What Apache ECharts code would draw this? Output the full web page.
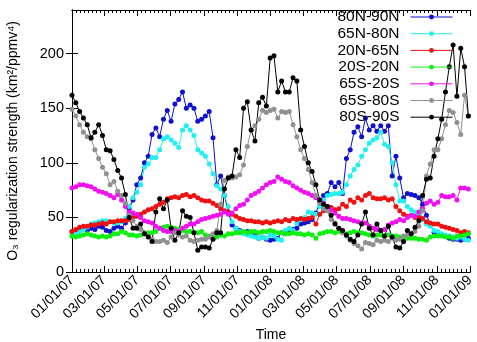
<!DOCTYPE html>
<html>
<head>
<meta charset="utf-8">
<script src="https://cdn.jsdelivr.net/npm/echarts@6/dist/echarts.min.js"></script>
<style>
  html, body { margin: 0; padding: 0; background: #fff; }
  #chart { width: 477px; height: 342px; }
</style>
</head>
<body>
<div id="chart"></div>
<script>
// weekly samples starting 01/01/07
const tickLabels = ["01/01/07", "03/01/07", "05/01/07", "07/01/07", "09/01/07", "11/01/07",
  "01/01/08", "03/01/08", "05/01/08", "07/01/08", "09/01/08", "11/01/08", "01/01/09"];
const yTicks = [0, 50, 100, 150, 200];
const seriesNames = ["80N-90N", "65N-80N", "20N-65N", "20S-20N", "65S-20S", "65S-80S", "80S-90S"];
const seriesColors = ["#1010d0", "#20f0f0", "#f01010", "#10f010", "#f010f0", "#909090", "#000000"];

const lat80N90N = [37, 38, 39, 40, 38, 40, 39, 42, 41, 38, 37, 40, 42, 40, 45, 58, 66, 80, 86, 100,
  106, 126, 132, 124, 140, 148, 138, 154, 158, 165, 150, 153, 150, 138, 140, 143, 147, 123, 80, 88,
  70, 55, 43, 40, 38, 36, 37, 35, 33, 31, 32, 30, 29, 30, 31, 36, 35, 36, 39, 40,
  44, 45, 46, 48, 54, 64, 70, 72, 82, 78, 82, 72, 104, 112, 128, 133, 124, 141, 130, 134,
  129, 134, 129, 134, 88, 106, 86, 68, 72, 71, 70, 68, 62, 52, 44, 36, 35, 34, 33, 31,
  30, 30, 29, 30, 31];
const lat65N80N = [33, 35, 37, 39, 41, 44, 45, 46, 47, 47, 46, 45, 45, 46, 49, 60, 68, 73, 80, 96,
  99, 105, 105, 112, 122, 124, 121, 118, 114, 130, 134, 130, 125, 112, 109, 106, 99, 90, 79, 76,
  70, 60, 46, 40, 37, 35, 34, 33, 32, 31, 32, 31, 34, 33, 30, 29, 38, 40, 38, 45,
  48, 50, 55, 54, 53, 60, 66, 70, 71, 72, 72, 73, 80, 88, 94, 98, 106, 112, 118, 121,
  123, 128, 117, 115, 100, 80, 65, 65, 60, 57, 55, 53, 48, 44, 42, 38, 37, 35, 34, 33,
  32, 31, 32, 30, 29];
const lat20N65N = [37, 39, 41, 42, 42, 43, 43, 44, 45, 44, 46, 46, 47, 47, 47, 48, 50, 51, 53, 55,
  57, 58, 60, 62, 64, 67, 68, 69, 68, 70, 71, 69, 70, 68, 66, 65, 65, 63, 61, 58,
  56, 55, 53, 51, 49, 48, 47, 47, 46, 46, 45, 46, 45, 46, 47, 46, 48, 47, 49, 48,
  49, 48, 49, 50, 44, 53, 56, 57, 59, 57, 58, 62, 60, 66, 64, 68, 66, 70, 72, 68,
  67, 67, 68, 66, 67, 60, 56, 53, 51, 52, 50, 50, 49, 46, 45, 44, 44, 42, 41, 40,
  39, 38, 36, 37, 36];
const lat20S20N = [33, 32, 33, 34, 35, 34, 33, 32, 33, 32, 33, 35, 35, 37, 36, 34, 34, 33, 34, 35,
  36, 36, 37, 40, 41, 42, 41, 40, 39, 38, 37, 37, 36, 36, 37, 34, 33, 33, 32, 34,
  33, 35, 35, 36, 36, 37, 36, 37, 37, 36, 37, 37, 38, 37, 36, 36, 35, 35, 36, 35,
  35, 34, 35, 34, 31, 35, 36, 37, 37, 36, 37, 36, 35, 36, 37, 36, 36, 35, 34, 33,
  34, 34, 33, 34, 33, 33, 32, 32, 31, 31, 31, 30, 30, 29, 32, 33, 33, 33, 32, 32,
  31, 33, 33, 34, 35];
const lat65S20S = [77, 78, 80, 80, 79, 78, 76, 74, 73, 72, 70, 68, 71, 66, 60, 55, 54, 53, 50, 47,
  46, 45, 42, 40, 38, 37, 37, 38, 37, 40, 42, 44, 44, 46, 48, 49, 50, 51, 52, 53,
  55, 53, 54, 58, 61, 62, 66, 70, 72, 74, 77, 80, 82, 83, 87, 85, 83, 82, 79, 77,
  75, 73, 72, 70, 68, 66, 63, 60, 57, 54, 51, 49, 49, 48, 47, 46, 45, 45, 42, 40,
  39, 38, 39, 43, 45, 46, 48, 47, 50, 52, 51, 55, 58, 63, 65, 62, 64, 70, 69, 69,
  70, 66, 77, 77, 76];
const lat65S80S = [149, 143, 135, 128, 124, 122, 112, 104, 96, 90, 80, 83, 74, 70, 63, 52, 47, 42, 39, 36,
  33, 30, 28, 28, 29, 27, 32, 36, 34, 32, 33, 29, 28, 29, 30, 30, 32, 35, 38, 62,
  84, 87, 86, 87, 89, 98, 115, 130, 134, 140, 148, 146, 148, 149, 141, 147, 146, 147, 135, 124,
  112, 104, 94, 82, 70, 63, 58, 56, 48, 45, 40, 36, 33, 29, 26, 24, 21, 27, 26, 25,
  29, 28, 29, 28, 31, 29, 30, 33, 34, 35, 37, 42, 56, 88, 99, 112, 112, 122, 135, 148,
  146, 137, 126, 162, 143];
const lat80S90S = [162, 155, 147, 141, 135, 123, 128, 135, 125, 112, 111, 103, 93, 86, 71, 50, 40, 40, 44, 35,
  32, 28, 55, 67, 58, 66, 40, 29, 36, 56, 51, 50, 36, 20, 23, 23, 22, 30, 36, 36,
  76, 86, 88, 112, 105, 150, 156, 130, 120, 155, 160, 152, 196, 198, 165, 175, 165, 165, 178, 175,
  130, 115, 100, 92, 80, 66, 62, 60, 52, 44, 40, 38, 34, 30, 28, 34, 44, 55, 40, 34,
  44, 38, 33, 42, 32, 23, 22, 28, 38, 35, 41, 47, 70, 85, 86, 106, 122, 140, 165, 188,
  208, 161, 205, 188, 143];

const seriesValues = [lat80N90N, lat65N80N, lat20N65N, lat20S20N, lat65S20S, lat65S80S, lat80S90S];

const DAY = 86400000;
const start = Date.UTC(2007, 0, 1);
function dayOf(label) {
  const [m, d, y] = label.split("/").map(Number);
  return (Date.UTC(2000 + y, m - 1, d) - start) / DAY;
}
const tickDays = tickLabels.map(dayOf);
const minorDays = [];
for (let k = 0; k < tickDays.length - 1; k++) {
  const a = tickDays[k], b = tickDays[k + 1];
  for (let j = 1; j < 8; j++) minorDays.push(a + (b - a) * j / 8);
}

const font = "Liberation Sans, Arial, sans-serif";
const baseX = {
  type: "value", min: 0, max: tickDays[tickDays.length - 1],
  splitLine: { show: false },
  axisLine: { show: true, onZero: false, lineStyle: { color: "#000", width: 1 } },
};

const myChart = echarts.init(document.getElementById("chart"));
myChart.setOption({
  animation: false,
  textStyle: { fontFamily: font },
  grid: { left: 72, right: 7, top: 10, bottom: 70, containLabel: false, outerBoundsMode: "none" },
  legend: {
    data: seriesNames,
    orient: "vertical",
    right: 19,
    top: 4,
    align: "right",
    itemWidth: 42,
    itemHeight: 6,
    itemGap: 0.7,
    lineStyle: { width: 1 },
    textStyle: { fontSize: 15.5, color: "#000", fontFamily: font, lineHeight: 15, padding: [0, 6, 0, 0] },
  },
  xAxis: [
    Object.assign({}, baseX, {
      position: "bottom",
      name: "Time", nameLocation: "middle", nameGap: 56,
      nameTextStyle: { fontSize: 14, color: "#000", fontFamily: font },
      axisTick: { show: true, inside: true, length: 6, customValues: tickDays, lineStyle: { color: "#000" } },
      axisLabel: {
        customValues: tickDays, rotate: 45, fontSize: 14, color: "#000", margin: 6,
        formatter: (v) => tickLabels[tickDays.indexOf(v)] || "",
      },
    }),
    Object.assign({}, baseX, {
      position: "bottom",
      axisTick: { show: true, inside: true, length: 3, customValues: minorDays, lineStyle: { color: "#000" } },
      axisLabel: { show: false },
    }),
    Object.assign({}, baseX, {
      position: "top",
      axisTick: { show: true, inside: true, length: 6, customValues: tickDays, lineStyle: { color: "#000" } },
      axisLabel: { show: false },
    }),
    Object.assign({}, baseX, {
      position: "top",
      axisTick: { show: true, inside: true, length: 3, customValues: minorDays, lineStyle: { color: "#000" } },
      axisLabel: { show: false },
    }),
  ],
  yAxis: [
    {
      type: "value", min: 0, max: 240, position: "left",
      name: "O₃ regularization strength (km²/ppmv⁴)",
      nameLocation: "middle", nameGap: 52, nameRotate: 90,
      nameTextStyle: { fontSize: 14, color: "#000", fontFamily: font },
      splitLine: { show: false },
      axisLine: { show: true, lineStyle: { color: "#000" } },
      axisTick: { show: true, inside: true, length: 6, customValues: yTicks, lineStyle: { color: "#000" } },
      axisLabel: { customValues: yTicks, fontSize: 14.5, color: "#000", margin: 8 },
    },
    {
      type: "value", min: 0, max: 240, position: "right",
      splitLine: { show: false },
      axisLine: { show: true, lineStyle: { color: "#000" } },
      axisTick: { show: true, inside: true, length: 6, customValues: yTicks, lineStyle: { color: "#000" } },
      axisLabel: { show: false },
    },
  ],
  series: seriesNames.map((name, k) => ({
    name: name,
    type: "line",
    xAxisIndex: 0,
    yAxisIndex: 0,
    data: seriesValues[k].map((v, i) => [i * 7, v]),
    symbol: "circle",
    symbolSize: 5,
    showSymbol: true,
    itemStyle: { color: seriesColors[k] },
    lineStyle: { color: seriesColors[k], width: 1 },
  })),
});
</script>
</body>
</html>
